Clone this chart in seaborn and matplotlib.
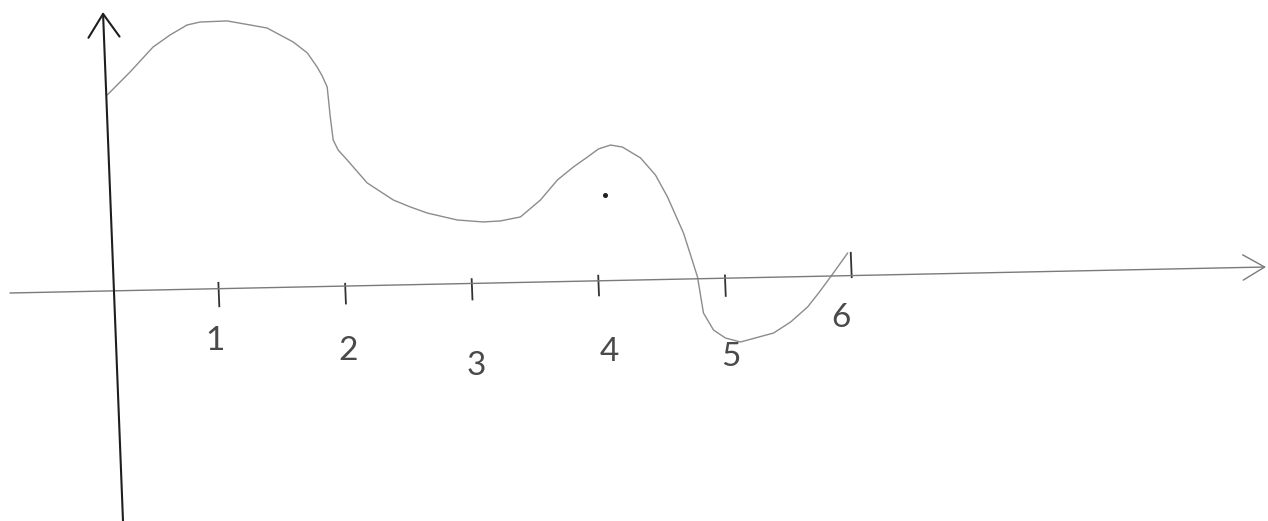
import numpy as np
import pandas as pd
import matplotlib
matplotlib.use("Agg")
import matplotlib.pyplot as plt
from matplotlib.transforms import Affine2D
import seaborn as sns

# Sketched curve f(x)
curve_x = [0.18, 0.368, 0.557, 0.695, 0.832, 0.936, 1.149, 1.330, 1.463, 1.665,
           1.773, 1.846, 1.883, 1.919, 1.934, 1.950, 1.986, 2.054, 2.205, 2.406,
           2.538, 2.670, 2.905, 3.109, 3.245, 3.404, 3.567, 3.707, 3.837, 3.951,
           4.041, 4.137, 4.230, 4.370, 4.483, 4.571, 4.686, 4.735, 4.783, 4.819,
           4.893, 4.985, 5.102, 5.366, 5.504, 5.643, 5.734, 5.833, 5.976]
curve_y = [1.544, 1.722, 1.915, 2.007, 2.083, 2.104, 2.108, 2.072, 2.045, 1.930,
           1.841, 1.728, 1.657, 1.569, 1.332, 1.150, 1.070, 0.990, 0.805, 0.666,
           0.608, 0.557, 0.497, 0.477, 0.482, 0.510, 0.640, 0.795, 0.895, 0.971,
           1.033, 1.062, 1.044, 0.955, 0.817, 0.642, 0.355, 0.180, 0.006, -0.280,
           -0.416, -0.481, -0.515, -0.450, -0.366, -0.250, -0.142, -0.017, 0.169]

# Axis ticks and their labels
tick_values = [1, 2, 3, 4, 5, 6]
tick_labels = ["1", "2", "3", "4", "5", "6"]

# Small pencil mark inside the second hump
dot_x = [4.082]
dot_y = [0.668]

# ---- layout (pixels of the 1268x521 canvas) ----
W, H = 1268, 521
SCALE = 126.6                  # pixels per unit on both axes
ORIGIN_PX = (92, 291)          # where (0, 0) sits, measured from the top-left
X_LEAN, Y_LEAN = 0.022, -0.039  # hand-drawn axes are slightly tilted

tick_top = [0.05, 0.02, 0.035, 0.04, 0.02, 0.177]
tick_bottom = [-0.15, -0.15, -0.14, -0.13, -0.156, -0.03]
label_dx = [-0.044, 0.0, 0.01, 0.063, 0.024, -0.10]
label_dy = [-0.415, -0.517, -0.66, -0.57, -0.63, -0.34]

sns.set_theme(style="white")
plt.rcParams["font.family"] = ["Lato", "DejaVu Sans"]

fig = plt.figure(figsize=(W / 100, H / 100), dpi=100, facecolor="white")
ax = fig.add_axes([0, 0, 1, 1])

lean = Affine2D().skew(np.arctan(Y_LEAN), np.arctan(X_LEAN)) + ax.transData

df = pd.DataFrame({"x": curve_x, "y": curve_y})
sns.lineplot(data=df, x="x", y="y", ax=ax, color="#8c8c8c", linewidth=1.0,
             transform=lean, legend=False)
ax.set_xlim(-ORIGIN_PX[0] / SCALE, (W - ORIGIN_PX[0]) / SCALE)
ax.set_ylim(-(H - ORIGIN_PX[1]) / SCALE, ORIGIN_PX[1] / SCALE)
ax.set_axis_off()

# pencil dot
ax.plot(dot_x, dot_y, marker="o", markersize=2.6, color="#222222",
        linestyle="none", transform=lean)

# axes drawn as arrows
ax.annotate("", xy=(1266 / W, 1 - 267 / H), xytext=(10 / W, 1 - 293 / H),
            xycoords="axes fraction", textcoords="axes fraction",
            arrowprops=dict(arrowstyle="->,head_length=0.6,head_width=0.35",
                            color="#7a7a7a", lw=1.0, mutation_scale=26,
                            shrinkA=0, shrinkB=0))
ax.annotate("", xy=(103 / W, 1 - 12 / H), xytext=(123 / W, 0.0),
            xycoords="axes fraction", textcoords="axes fraction",
            arrowprops=dict(arrowstyle="->,head_length=0.6,head_width=0.4",
                            color="#1e1e1e", lw=1.5, mutation_scale=28,
                            shrinkA=0, shrinkB=0))

# tick marks and labels
ax.vlines(tick_values, tick_bottom, tick_top, colors="#333333", linewidth=1.3,
          transform=lean)
for v, lab, dx, dy in zip(tick_values, tick_labels, label_dx, label_dy):
    ax.text(v + dx, dy, lab, transform=lean, ha="center", va="center",
            fontsize=24, fontweight="normal", color="#4a4a4a")

fig.savefig("out.png", dpi=100, facecolor="white")
